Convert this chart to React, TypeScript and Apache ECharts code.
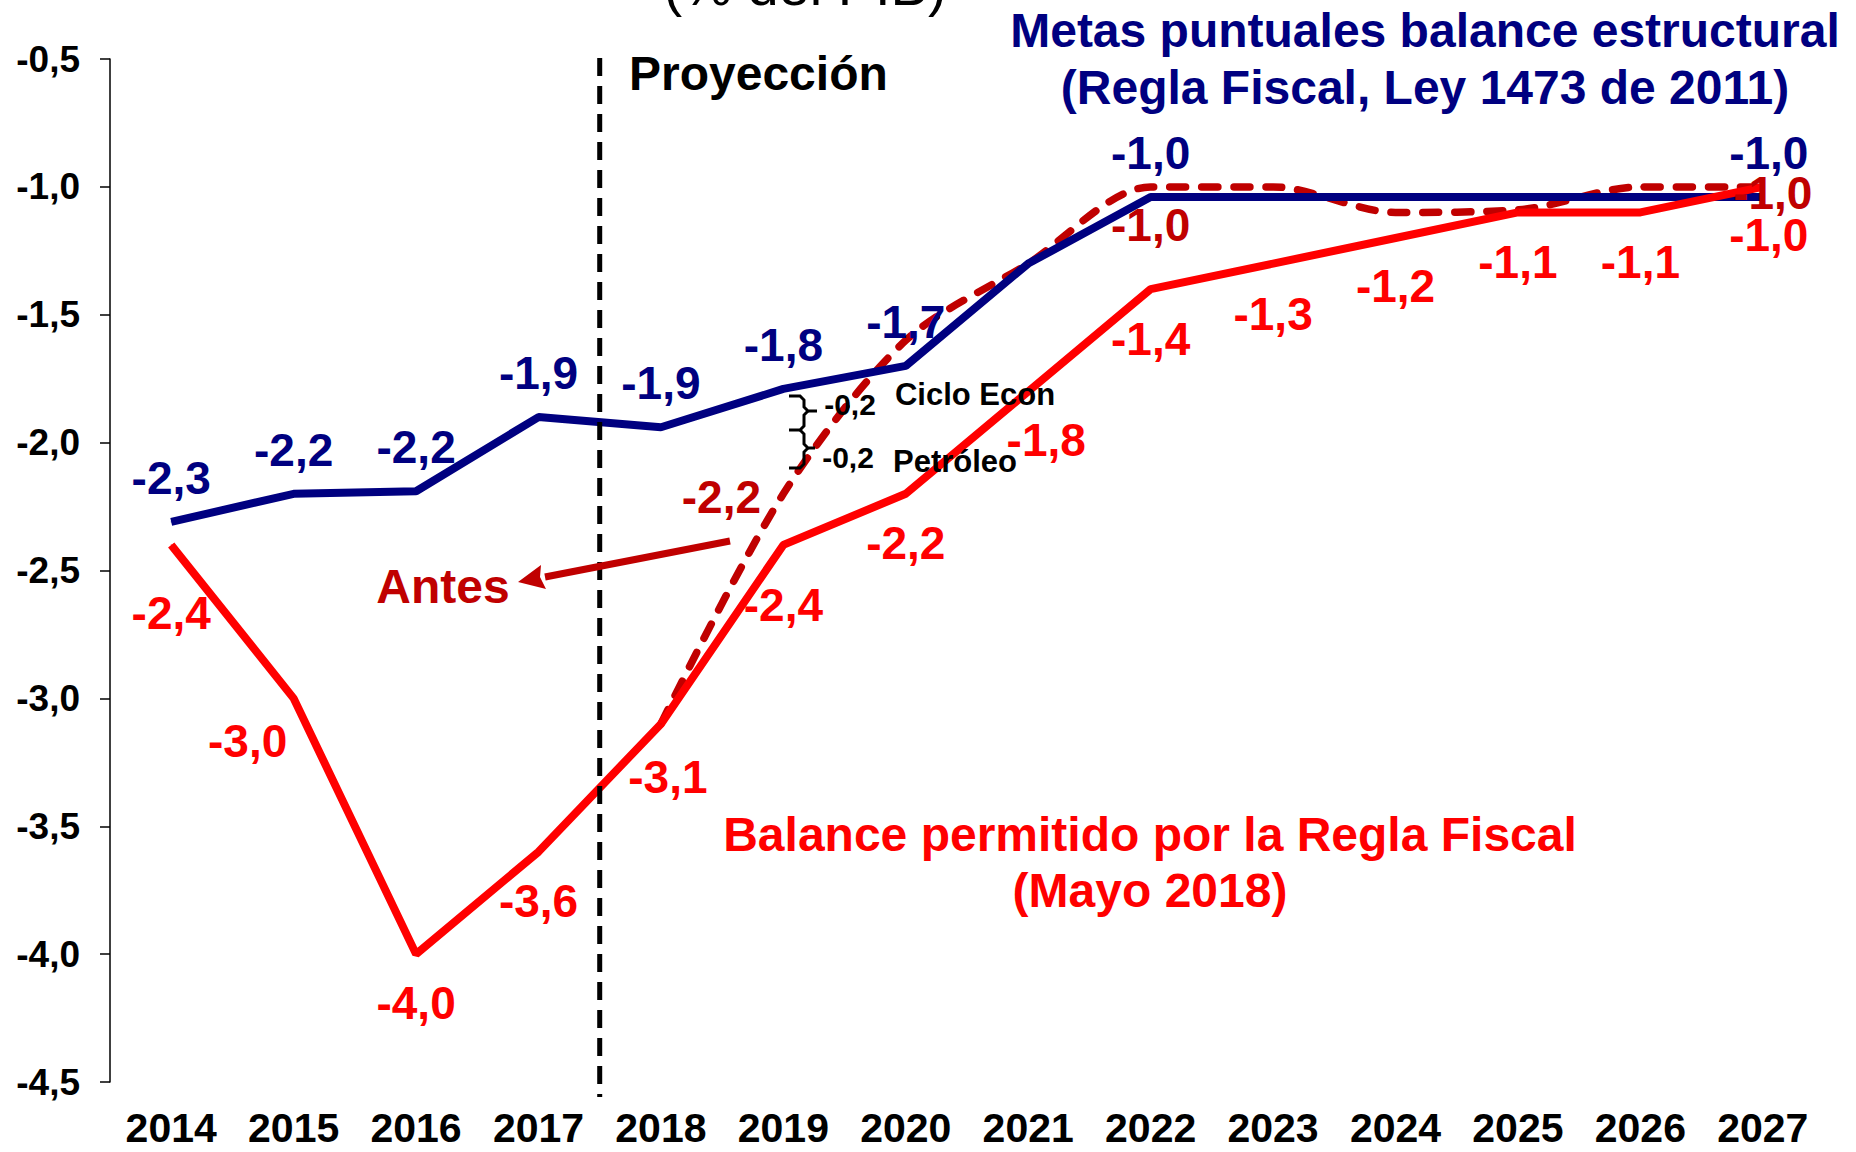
import { useEffect, useRef } from 'react';
import * as echarts from 'echarts';

const years = ['2014', '2015', '2016', '2017', '2018', '2019', '2020', '2021', '2022', '2023', '2024', '2025', '2026', '2027'];
const metas = [-2.31, -2.2, -2.19, -1.9, -1.94, -1.79, -1.7, -1.3, -1.04, -1.04, -1.04, -1.04, -1.04, -1.04];
const permitido = [-2.4, -3.0, -4.0, -3.6, -3.1, -2.4, -2.2, -1.8, -1.4, -1.3, -1.2, -1.1, -1.1, -1.0];
const antes = [null, null, null, null, -3.1, -2.2, -1.6, -1.3, -1.0, -1.0, -1.1, -1.09, -1.0, -1.0];
const metasShown = [true, true, true, true, true, true, true, false, true, false, false, false, false, true];
const antesShown = [false, false, false, false, false, true, false, false, true, false, false, false, false, true];
const yMin = -4.5;
const yMax = -0.5;
const yStep = 0.5;

// label layout (pixel offsets from each point)
const metasOffsets = [[0, -44], [0, -44], [0, -44], [0, -44], [0, -44], [0, -44], [0, -44], [0, -44], [0, -44], [0, -44], [0, -44], [0, -44], [0, -44], [6, -44]];
const permitidoOffsets = [[0, 68], [-46, 43], [0, 49], [0, 49], [7, 53], [0, 60], [0, 49], [18, 49], [0, 50], [0, 50], [0, 48], [0, 50], [0, 50], [6, 48]];
const antesOffsets = [[0, 0], [0, 0], [0, 0], [0, 0], [0, 0], [-62, 3], [0, 0], [0, 0], [0, 38], [0, 0], [0, 0], [0, 0], [0, 0], [10, 6]];

const FONT = '"Liberation Sans", Arial, Helvetica, sans-serif';
const NAVY = '#000080';
const RED = '#FF0000';
const DARKRED = '#C00000';

const fmt = (v: number) => v.toFixed(1).replace('.', ',');

function items(values: (number | null)[], shown: boolean[], offsets: number[][], color: string) {
  return values.map((v, i) => ({
    value: v,
    label: {
      show: shown[i] && v !== null,
      position: 'inside',
      offset: offsets[i],
      color,
      fontSize: 46,
      fontWeight: 'bold',
      fontFamily: FONT,
      formatter: (p: any) => fmt(p.value),
    },
  }));
}

function txt(text: string, x: number, y: number, color: string, size: number, weight = 'bold', align = 'center') {
  return {
    type: 'text',
    x,
    y,
    z: 20,
    style: {
      text,
      fill: color,
      fontSize: size,
      fontWeight: weight,
      fontFamily: FONT,
      align,
      verticalAlign: 'middle',
    },
  };
}

export default function App() {
  const ref = useRef<HTMLDivElement>(null);
  useEffect(() => {
    document.body.style.margin = '0';
    document.body.style.overflow = 'hidden';
    if (!ref.current) return;
    const chart = echarts.init(ref.current, undefined, { renderer: 'svg' });
    chart.setOption({
      animation: false,
      backgroundColor: '#fff',
      grid: { left: 110, right: 32, top: 59, bottom: 70, containLabel: false },
      xAxis: {
        type: 'category',
        data: years,
        boundaryGap: true,
        axisLine: { show: false },
        axisTick: { show: false },
        axisLabel: { color: '#000', fontSize: 41, fontWeight: 'bold', fontFamily: FONT, margin: 25, interval: 0 },
      },
      yAxis: {
        type: 'value',
        min: yMin,
        max: yMax,
        interval: yStep,
        splitLine: { show: false },
        axisLine: { show: true, lineStyle: { color: '#000', width: 1.5 } },
        axisTick: { show: true, inside: false, length: 10, lineStyle: { color: '#000', width: 1.5 } },
        axisLabel: { color: '#000', fontSize: 37, fontWeight: 'bold', fontFamily: FONT, margin: 30, formatter: (v: number) => fmt(v) },
      },
      series: [
        {
          name: 'Antes',
          type: 'line',
          data: items(antes, antesShown, antesOffsets, DARKRED),
          smooth: 0.3,
          symbol: 'circle',
          symbolSize: 1,
          itemStyle: { color: DARKRED },
          lineStyle: { color: DARKRED, width: 7.5, type: [16, 16], cap: 'round' },
          connectNulls: false,
        },
        {
          name: 'Metas',
          type: 'line',
          data: items(metas, metasShown, metasOffsets, NAVY),
          symbol: 'circle',
          symbolSize: 1,
          itemStyle: { color: NAVY },
          lineStyle: { color: NAVY, width: 8 },
        },
        {
          name: 'Permitido',
          type: 'line',
          data: items(permitido, years.map(() => true), permitidoOffsets, RED),
          symbol: 'circle',
          symbolSize: 1,
          itemStyle: { color: RED },
          lineStyle: { color: RED, width: 8 },
        },
      ],
    });

    const xa = chart.convertToPixel({ xAxisIndex: 0 }, '2017') as number;
    const xb = chart.convertToPixel({ xAxisIndex: 0 }, '2018') as number;
    const xm = (xa + xb) / 2;

    const brace1 = [[789, 396], [800, 396], [804, 400], [804, 407], [808, 411], [817, 411]];
    const brace1b = [[808, 411], [804, 415], [804, 426], [800, 430], [789, 430]];
    const brace2 = [[800, 430], [804, 434], [804, 444], [808, 448], [815, 448]];
    const brace2b = [[808, 448], [804, 452], [804, 464], [800, 468], [789, 468]];

    chart.setOption({
      graphic: [
        {
          type: 'line',
          z: 5,
          shape: { x1: xm, y1: 58, x2: xm, y2: 1097 },
          style: { stroke: '#000', lineWidth: 5, lineDash: [18, 10] },
        },
        txt('(% del PIB)', 805, -15, '#000', 56, 'normal'),
        txt('Proyección', 629, 73, '#000', 48, 'bold', 'left'),
        txt('Metas puntuales balance estructural', 1425, 30, NAVY, 48),
        txt('(Regla Fiscal, Ley 1473 de 2011)', 1425, 87, NAVY, 48),
        txt('Balance permitido por la Regla Fiscal', 1150, 834, RED, 48),
        txt('(Mayo 2018)', 1150, 890, RED, 48),
        txt('Antes', 443, 586, DARKRED, 48),
        txt('-0,2', 850, 404, '#000', 30),
        txt('Ciclo Econ', 975, 394, '#000', 31),
        txt('-0,2', 848, 457, '#000', 30),
        txt('Petróleo', 955, 461, '#000', 31),
        ...[brace1, brace1b, brace2, brace2b].map((pts) => ({
          type: 'polyline',
          z: 20,
          shape: { points: pts },
          style: { stroke: '#000', lineWidth: 3, fill: 'none' },
        })),
        {
          type: 'line',
          z: 20,
          shape: { x1: 730, y1: 541, x2: 545, y2: 577 },
          style: { stroke: DARKRED, lineWidth: 7 },
        },
        {
          type: 'polygon',
          z: 20,
          shape: { points: [[518, 582], [546, 589], [540, 577], [541, 565]] },
          style: { fill: DARKRED },
        },
      ],
    });

    return () => chart.dispose();
  }, []);
  return <div ref={ref} style={{ width: 1856, height: 1152, overflow: 'hidden' }} />;
}
